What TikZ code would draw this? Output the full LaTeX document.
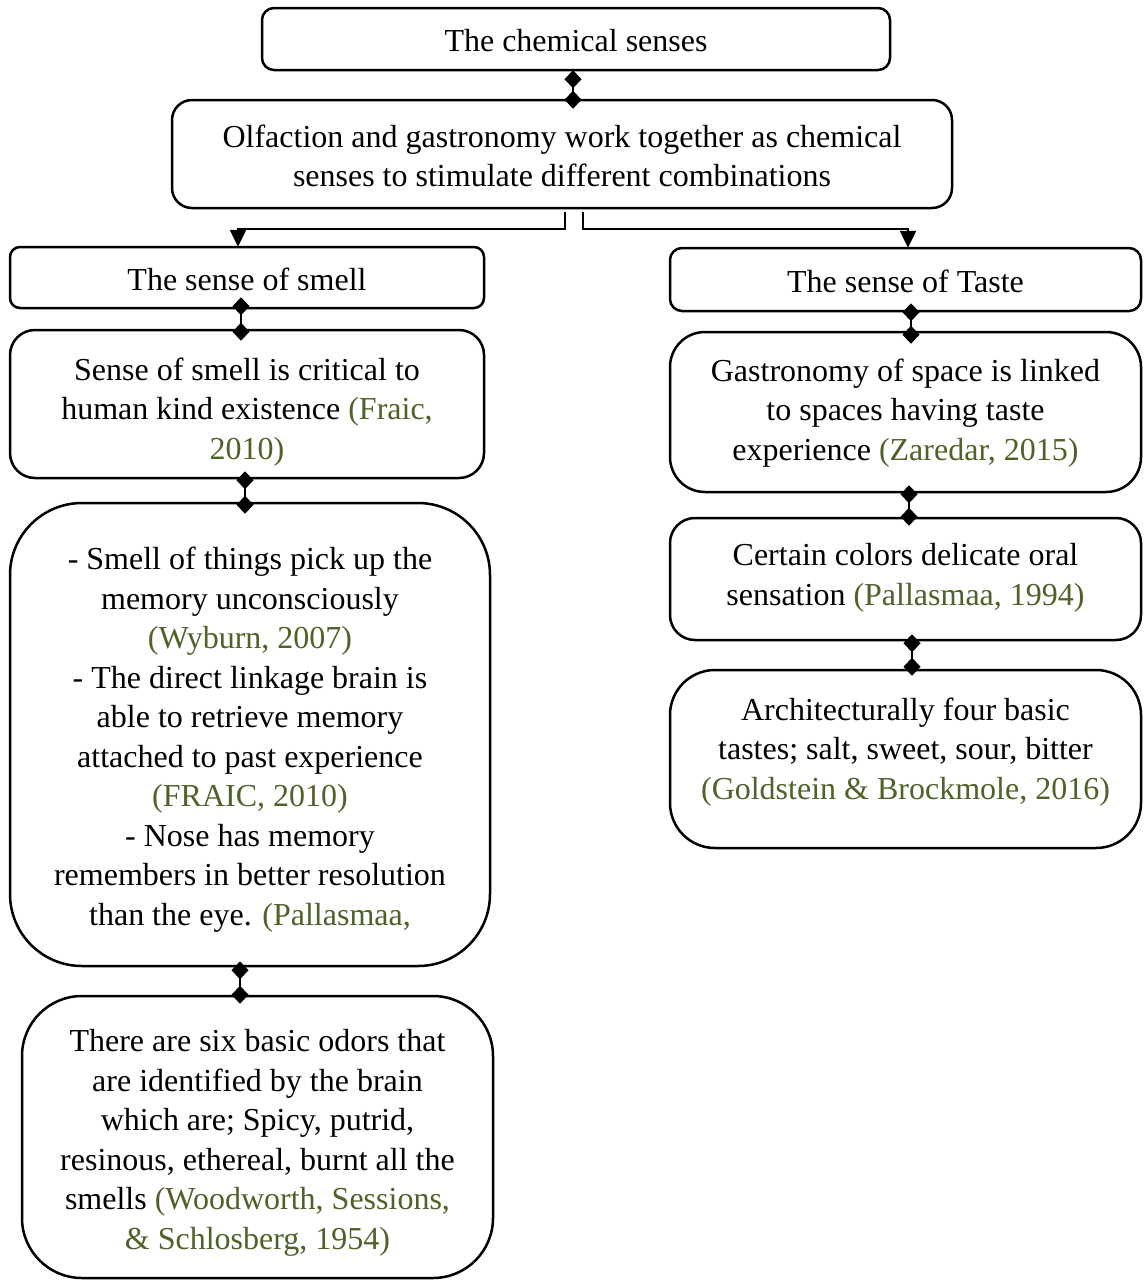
\documentclass[tikz,border=0pt]{standalone}
\usepackage{fontspec}
\setmainfont{Liberation Serif}
\usetikzlibrary{arrows.meta,calc}
\definecolor{citegreen}{RGB}{79,98,40}
\newcommand{\cit}[1]{\textcolor{citegreen}{#1}}
\begin{document}
\begin{tikzpicture}[x=1pt,y=-1pt,
  box/.style={draw=black,line width=2.5pt,fill=white,inner sep=0pt},
  txt/.style={align=center,inner sep=0pt,font=\fontsize{32}{39.5}\selectfont},
  link/.style={line width=2.5pt,{Diamond[length=18pt,width=17pt]}-{Diamond[length=18pt,width=17pt]}},
  branch/.style={line width=2.5pt,-{Triangle[length=17pt,width=16pt]}}]
\useasboundingbox (0,0) rectangle (1144,1280);

% top level
\node[box,rounded corners=12pt,minimum width=628pt,minimum height=62pt] (top) at (576,39) {};
\node[txt] (top-t) at (576,41) {The chemical senses};
\node[box,rounded corners=20pt,minimum width=780pt,minimum height=108pt] (olf) at (562,154) {};
\node[txt] (olf-t) at (562,156)
  {Olfaction and gastronomy work together as chemical\\senses to stimulate different combinations};

% smell column
\node[box,rounded corners=10pt,minimum width=474pt,minimum height=61pt] (smell) at (247,277.5) {};
\node[txt] (smell-t) at (247,279.5) {The sense of smell};
\node[box,rounded corners=25pt,minimum width=474pt,minimum height=148pt] (s1) at (247,404) {};
\node[txt] (s1-t) at (247,412)
  {Sense of smell is critical to\\human kind existence \cit{(Fraic,}\\\cit{2010)}};
\node[box,rounded corners=72pt,minimum width=480pt,minimum height=463pt] (s2) at (250,734.5) {};
\node[txt] (s2-t) at (250,739.5)
  {- Smell of things pick up the\\memory unconsciously\\\cit{(Wyburn, 2007)}\\
   - The direct linkage brain is\\able to retrieve memory\\attached to past experience\\
   \cit{(FRAIC, 2010)}\\- Nose has memory\\remembers in better resolution\\
   than the eye. \cit{(Pallasmaa,}};
\node[box,rounded corners=60pt,minimum width=471pt,minimum height=282pt] (s3) at (257.5,1137) {};
\node[txt] (s3-t) at (257.5,1143)
  {There are six basic odors that\\are identified by the brain\\which are; Spicy, putrid,\\
   resinous, ethereal, burnt all the\\smells \cit{(Woodworth, Sessions,}\\
   \cit{\& Schlosberg, 1954)}};

% taste column
\node[box,rounded corners=12pt,minimum width=471pt,minimum height=63pt] (taste) at (905.5,279.5) {};
\node[txt] (taste-t) at (905.5,281.5) {The sense of Taste};
\node[box,rounded corners=35pt,minimum width=471pt,minimum height=160pt] (t1) at (905.5,412) {};
\node[txt] (t1-t) at (905.5,413)
  {Gastronomy of space is linked\\to spaces having taste\\experience \cit{(Zaredar, 2015)}};
\node[box,rounded corners=25pt,minimum width=471pt,minimum height=122pt] (t2) at (905.5,579) {};
\node[txt] (t2-t) at (905.5,578)
  {Certain colors delicate oral\\sensation \cit{(Pallasmaa, 1994)}};
\node[box,rounded corners=45pt,minimum width=471pt,minimum height=178pt] (t3) at (905.5,759) {};
\node[txt] (t3-t) at (905.5,752)
  {Architecturally four basic\\tastes; salt, sweet, sour, bitter\\\cit{(Goldstein \& Brockmole, 2016)}};

% diamond-ended links
\draw[link] ($(top.south)+(-3,-1)$) -- ($(olf.north)+(11,10)$);
\draw[link] ($(smell.south)+(-6,-12)$) -- ($(s1.north)+(-6,12)$);
\draw[link] ($(s1.south)+(-2,-8)$) -- ($(s2.north)+(-5,12)$);
\draw[link] ($(s2.south)+(-10,-6)$) -- ($(s3.north)+(-17.5,9)$);
\draw[link] ($(taste.south)+(5.5,-9)$) -- ($(t1.north)+(5.5,13)$);
\draw[link] ($(t1.south)+(3.5,-8)$) -- ($(t2.north)+(3.5,9)$);
\draw[link] ($(t2.south)+(6.5,-7)$) -- ($(t3.north)+(6.5,7)$);

% branching arrows
\draw[branch] ($(olf.south)+(3,3)$) |- ($(smell.north)+(-9,-17)$) -- ($(smell.north)+(-9,1)$);
\draw[branch] ($(olf.south)+(21,3)$) |- ($(taste.north)+(2.5,-18)$) -- ($(taste.north)+(2.5,1)$);
\end{tikzpicture}
\end{document}
